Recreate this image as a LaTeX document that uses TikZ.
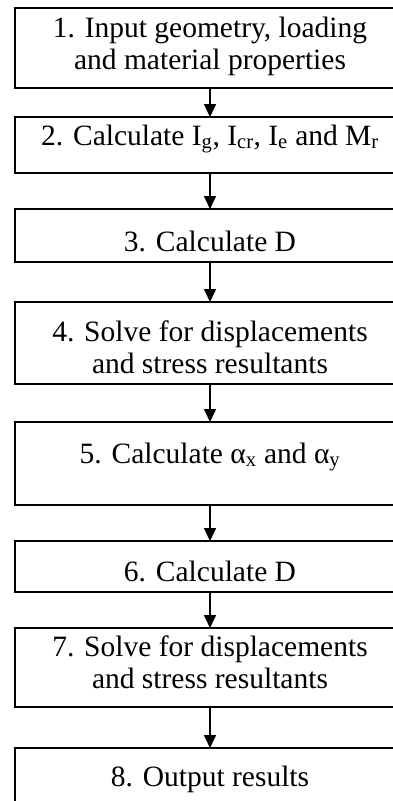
\documentclass[tikz,border=0pt]{standalone}
\usepackage{fontspec}
\setmainfont{Liberation Serif}
\usetikzlibrary{arrows.meta}
\usetikzlibrary{positioning}
\tikzset{>={Triangle[length=13pt,width=12pt]}}
\tikzset{
    stage/.style 2 args={draw, line width=1.6pt, minimum width=390pt,
        inner xsep=0pt, inner ysep=0pt, outer sep=0pt, text height=#1, text depth=#2,
        font=\fontsize{29.5}{32.5}\selectfont},
    flow/.style={->, line width=1.6pt},
}
\newcommand{\twolines}[2]{\begin{tabular}[t]{@{}c@{}}#1\\#2\end{tabular}}% first line is the baseline

\begin{document}
\begin{tikzpicture}[x=1pt, y=-1pt]
    \path[use as bounding box] (0,0) rectangle (393,801);
    \clip (0,0) rectangle (393,801);

    % steps of the analysis, top to bottom
    \node[stage={29pt}{51pt}, anchor=north] (input) at (210,8)
        {\twolines{1. Input geometry, loading}{and material properties}};
    \node[stage={28pt}{28pt}, below=29pt of input] (inertia)
        {2. Calculate I\textsubscript{g}, I\textsubscript{cr}, I\textsubscript{e} and M\textsubscript{r}};
    \node[stage={42pt}{11pt}, below=36pt of inertia] (rigidA) {3. Calculate D};
    \node[stage={39pt}{43pt}, below=40pt of rigidA] (solveA)
        {\twolines{4. Solve for displacements}{and stress resultants}};
    \node[stage={41pt}{42pt}, below=38pt of solveA] (alpha)
        {5. Calculate α\textsubscript{x} and α\textsubscript{y}};
    \node[stage={40pt}{11pt}, below=36pt of alpha] (rigidB) {6. Calculate D};
    \node[stage={28pt}{51pt}, below=36pt of rigidB] (solveB)
        {\twolines{7. Solve for displacements}{and stress resultants}};
    \node[stage={38pt}{60pt}, below=41pt of solveB] (output) {8. Output results};

    \foreach \from/\to in {input/inertia, inertia/rigidA, rigidA/solveA, solveA/alpha,
                           alpha/rigidB, rigidB/solveB, solveB/output}
        \draw[flow] (\from) -- (\to);
\end{tikzpicture}
\end{document}
